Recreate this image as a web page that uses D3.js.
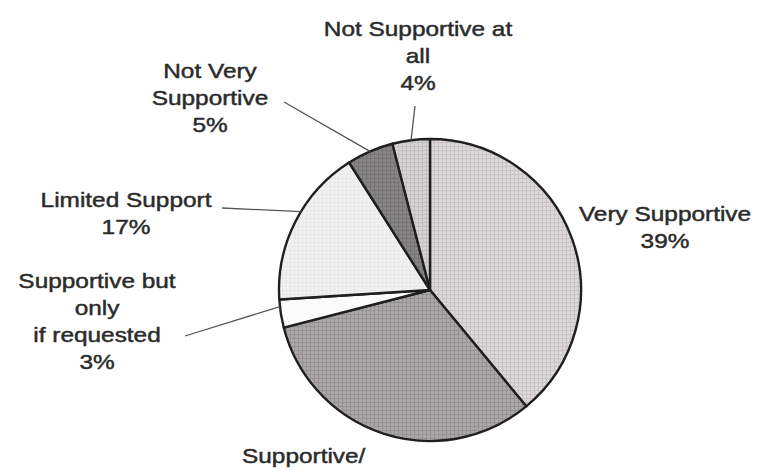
<!DOCTYPE html>
<html>
<head>
<meta charset="utf-8">
<script src="https://cdn.jsdelivr.net/npm/d3@7/dist/d3.min.js"></script>
<style>
  html, body { margin: 0; padding: 0; background: #fff; }
  svg { display: block; }
  .lbl { font-family: "Liberation Sans", Arial, sans-serif; font-size: 20px; fill: #2b2b2b; stroke: #2b2b2b; stroke-width: 0.45px; }
</style>
</head>
<body>
<svg id="chart" width="774" height="470"></svg>
<script>
// Survey responses, clockwise from 12 o'clock
const categories = [
  "Very Supportive",
  "Supportive/",
  "Supportive but only if requested",
  "Limited Support",
  "Not Very Supportive",
  "Not Supportive at all"
];
const values = [39, 32, 3, 17, 5, 4];
// How each category name is broken over lines in its label
const nameLines = [
  ["Very Supportive"],
  ["Supportive/"],
  ["Supportive but", "only", "if requested"],
  ["Limited Support"],
  ["Not Very", "Supportive"],
  ["Not Supportive at", "all"]
];
// whether the percentage line is shown under the name
const showPct = [true, false, true, true, true, true];

// ---- layout ----
const W = 774, H = 470;
const cx = 430, cy = 290, R = 151;
const lineGap = 27;
const labelLayout = [
  { x: 665, y: 214, anchor: "middle" },
  { x: 242, y: 456, anchor: "start" },
  { x: 97,  y: 281, anchor: "middle" },
  { x: 126, y: 200, anchor: "middle" },
  { x: 210, y: 71,  anchor: "middle" },
  { x: 418, y: 29,  anchor: "middle" }
];
// leader lines: start point and relative position along the slice arc
const leaders = [
  null,
  null,
  { x: 185, y: 336, t: 0.75 },
  { x: 222, y: 208, t: 0.57 },
  { x: 284, y: 102, t: 0.5 },
  { x: 415, y: 106, t: 0.5 }
];
const fills = [
  { base: "#dcd8da", grid: "#c9c5c7" },
  { base: "#aba7a9", grid: "#979395" },
  { base: "#fbfbfb", grid: "#fbfbfb" },
  { base: "#f2f1f1", grid: "#eae9e9" },
  { base: "#878586", grid: "#767475" },
  { base: "#d7d3d5", grid: "#c4c0c2" }
];

const svg = d3.select("#chart");
svg.append("rect").attr("width", W).attr("height", H).attr("fill", "#fff");

// fine cross-hatch textures
const defs = svg.append("defs");
fills.forEach((f, i) => {
  const p = defs.append("pattern")
    .attr("id", "tex" + i)
    .attr("patternUnits", "userSpaceOnUse")
    .attr("width", 4).attr("height", 4);
  p.append("rect").attr("width", 4).attr("height", 4).attr("fill", f.base);
  p.append("path").attr("d", "M0,0.5H4M0.5,0V4")
    .attr("stroke", f.grid).attr("stroke-width", 1);
});

const pie = d3.pie().sort(null).value(d => d).startAngle(0).endAngle(2 * Math.PI);
const arcs = pie(values);
const arc = d3.arc().innerRadius(0).outerRadius(R);

const g = svg.append("g").attr("transform", `translate(${cx},${cy})`);
g.selectAll("path.slice")
  .data(arcs)
  .join("path")
  .attr("class", "slice")
  .attr("d", arc)
  .attr("fill", (d, i) => `url(#tex${i})`)
  .attr("stroke", "#1f1f1f")
  .attr("stroke-width", 2.4)
  .attr("stroke-linejoin", "round");

// leader lines to the rim of their slice
arcs.forEach((d, i) => {
  const L = leaders[i];
  if (!L) return;
  const a = d.startAngle + (d.endAngle - d.startAngle) * L.t;
  const ex = cx + R * Math.sin(a);
  const ey = cy - R * Math.cos(a);
  svg.append("line")
    .attr("x1", L.x).attr("y1", L.y)
    .attr("x2", ex).attr("y2", ey)
    .attr("stroke", "#555")
    .attr("stroke-width", 1.3);
});

// labels
categories.forEach((c, i) => {
  const lines = nameLines[i].slice();
  if (showPct[i]) lines.push(values[i] + "%");
  const pos = labelLayout[i];
  lines.forEach((txt, k) => {
    svg.append("text")
      .attr("class", "lbl")
      .attr("text-anchor", pos.anchor)
      .attr("dy", "0.35em")
      .attr("transform", `translate(${pos.x},${pos.y + k * lineGap}) scale(1.22,1)`)
      .text(txt);
  });
});
</script>
</body>
</html>
